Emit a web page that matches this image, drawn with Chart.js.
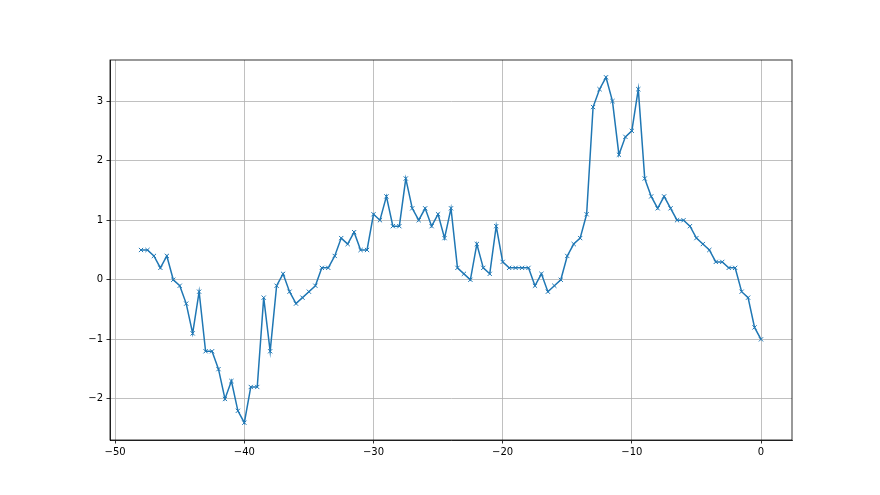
<!DOCTYPE html>
<html><head><meta charset="utf-8">
<script src="https://cdn.jsdelivr.net/npm/chart.js@4"></script>
<style>html,body{margin:0;padding:0;background:#fff;} canvas{display:block}</style>
</head><body>
<canvas id="c" width="880" height="495" style="width:880px;height:495px"></canvas>
<script>
const xValues = [-48,-47.5,-47,-46.5,-46,-45.5,-45,-44.5,-44,-43.5,-43,-42.5,-42,-41.5,-41,-40.5,-40,-39.5,-39,-38.5,-38,-37.5,-37,-36.5,-36,-35.5,-35,-34.5,-34,-33.5,-33,-32.5,-32,-31.5,-31,-30.5,-30,-29.5,-29,-28.5,-28,-27.5,-27,-26.5,-26,-25.5,-25,-24.5,-24,-23.5,-23,-22.5,-22,-21.5,-21,-20.5,-20,-19.5,-19,-18.5,-18,-17.5,-17,-16.5,-16,-15.5,-15,-14.5,-14,-13.5,-13,-12.5,-12,-11.5,-11,-10.5,-10,-9.5,-9,-8.5,-8,-7.5,-7,-6.5,-6,-5.5,-5,-4.5,-4,-3.5,-3,-2.5,-2,-1.5,-1,-0.5,0];
const yValues = [0.5,0.5,0.4,0.2,0.4,0.0,-0.1,-0.4,-0.9,-0.2,-1.2,-1.2,-1.5,-2.0,-1.7,-2.2,-2.4,-1.8,-1.8,-0.3,-1.2,-0.1,0.1,-0.2,-0.4,-0.3,-0.2,-0.1,0.2,0.2,0.4,0.7,0.6,0.8,0.5,0.5,1.1,1.0,1.4,0.9,0.9,1.7,1.2,1.0,1.2,0.9,1.1,0.7,1.2,0.2,0.1,0.0,0.6,0.2,0.1,0.9,0.3,0.2,0.2,0.2,0.2,-0.1,0.1,-0.2,-0.1,0.0,0.4,0.6,0.7,1.1,2.9,3.2,3.4,3.0,2.1,2.4,2.5,3.2,1.7,1.4,1.2,1.4,1.2,1.0,1.0,0.9,0.7,0.6,0.5,0.3,0.3,0.2,0.2,-0.2,-0.3,-0.8,-1.0];
const xTicks = [-50,-40,-30,-20,-10,0];
const yTicks = [-2,-1,0,1,2,3];

const fmt = v => v < 0 ? '\u2212' + Math.abs(v) : String(v);
const tickFont = {family: 'DejaVu Sans', size: 10};

const framePlugin = {
  id: 'frame',
  afterDraw(chart) {
    const {ctx, chartArea: a} = chart;
    ctx.save();
    ctx.strokeStyle = '#000';
    ctx.lineWidth = 0.8;
    ctx.strokeRect(a.left, a.top, a.right - a.left, a.bottom - a.top);
    ctx.restore();
  }
};

new Chart(document.getElementById('c'), {
  type: 'line',
  data: {
    datasets: [{
      data: xValues.map((x, i) => ({x: x, y: yValues[i]})),
      borderColor: '#1f77b4',
      borderWidth: 1.5,
      backgroundColor: '#1f77b4',
      pointStyle: 'crossRot',
      pointRadius: 3,
      pointBorderWidth: 1,
      pointBorderColor: '#1f77b4',
      pointHoverRadius: 3,
      tension: 0,
      fill: false
    }]
  },
  options: {
    responsive: false,
    animation: false,
    events: [],
    layout: {padding: {top: 60, right: 88, left: 0, bottom: 0}},
    plugins: {legend: {display: false}, tooltip: {enabled: false}, title: {display: false}},
    scales: {
      x: {
        type: 'linear', min: -50.4, max: 2.4,
        afterBuildTicks: s => { s.ticks = xTicks.map(v => ({value: v})); },
        afterFit: s => { s.height = 55; },
        ticks: {callback: fmt, font: tickFont, color: '#000', padding: 3, maxRotation: 0, autoSkip: false},
        grid: {color: '#b0b0b0', lineWidth: 0.8, tickColor: '#000', tickLength: 3.5, drawTicks: true},
        border: {display: true, color: '#000', width: 0.8}
      },
      y: {
        type: 'linear', min: -2.69, max: 3.69,
        afterBuildTicks: s => { s.ticks = yTicks.map(v => ({value: v})); },
        afterFit: s => { s.width = 110; },
        ticks: {callback: fmt, font: tickFont, color: '#000', padding: 3.5, autoSkip: false},
        grid: {color: '#b0b0b0', lineWidth: 0.8, tickColor: '#000', tickLength: 3.5, drawTicks: true},
        border: {display: true, color: '#000', width: 0.8}
      }
    }
  },
  plugins: [framePlugin]
});
</script>
</body></html>
